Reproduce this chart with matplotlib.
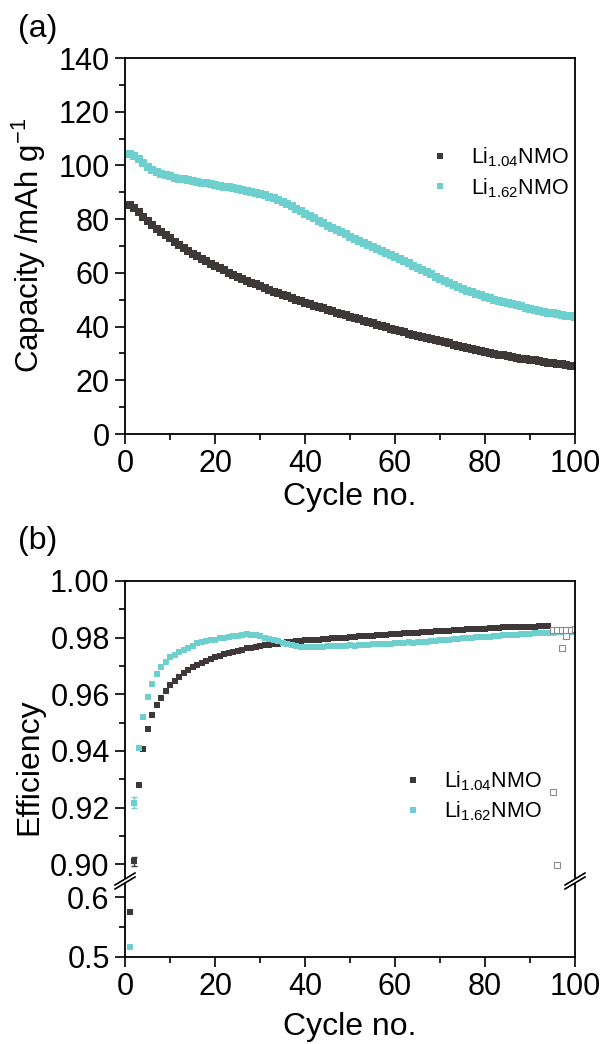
import matplotlib
matplotlib.use("Agg")
import matplotlib.pyplot as plt
from matplotlib.ticker import MultipleLocator, FormatStrFormatter

plt.rcParams["font.family"] = ["Liberation Sans", "DejaVu Sans"]
plt.rcParams["mathtext.default"] = "regular"

DARK = "#3e3838"
CYAN = "#6dcfce"
FS = 22

# ---- data ----
cycles = list(range(1, 101))

cap_li104 = [
    85.2, 84.2, 82.6, 80.9, 79.3, 77.8, 76.5, 75.2, 74.0, 72.8,
    71.6, 70.4, 69.3, 68.2, 67.2, 66.2, 65.2, 64.3, 63.4, 62.5,
    61.7, 60.9, 60.1, 59.3, 58.6, 57.8, 57.1, 56.4, 55.7, 55.0,
    54.3, 53.6, 53.0, 52.4, 51.8, 51.2, 50.6, 50.0, 49.4, 48.8,
    48.3, 47.8, 47.3, 46.8, 46.2, 45.7, 45.2, 44.7, 44.2, 43.7,
    43.2, 42.7, 42.2, 41.7, 41.2, 40.7, 40.2, 39.7, 39.2, 38.7,
    38.3, 37.9, 37.4, 37.0, 36.6, 36.2, 35.8, 35.4, 34.9, 34.5,
    34.1, 33.7, 33.3, 32.9, 32.5, 32.1, 31.7, 31.3, 30.9, 30.5,
    30.2, 29.9, 29.6, 29.3, 29.0, 28.7, 28.4, 28.1, 27.9, 27.7,
    27.4, 27.1, 26.9, 26.6, 26.4, 26.1, 25.9, 25.7, 25.5, 25.3,
]

cap_li162 = [
    104.3, 103.6, 102.3, 100.8, 99.5, 98.4, 97.6, 96.9, 96.4, 95.9,
    95.5, 95.1, 94.8, 94.5, 94.2, 93.9, 93.6, 93.3, 93.0, 92.7,
    92.4, 92.1, 91.8, 91.5, 91.2, 90.9, 90.6, 90.2, 89.8, 89.4,
    88.9, 88.4, 87.8, 87.1, 86.4, 85.6, 84.8, 83.9, 83.0, 82.1,
    81.2, 80.3, 79.4, 78.5, 77.6, 76.8, 75.9, 75.1, 74.3, 73.5,
    72.7, 71.9, 71.1, 70.3, 69.5, 68.8, 68.0, 67.3, 66.6, 65.9,
    65.1, 64.3, 63.5, 62.7, 61.9, 61.0, 60.2, 59.4, 58.5, 57.7,
    56.9, 56.2, 55.5, 54.8, 54.1, 53.4, 52.8, 52.2, 51.6, 51.0,
    50.5, 50.0, 49.5, 49.1, 48.7, 48.3, 47.9, 47.5, 47.1, 46.7,
    46.3, 45.9, 45.6, 45.2, 44.9, 44.6, 44.3, 44.0, 43.8, 43.6,
]

eff_cycles_li104 = list(range(1, 95))
eff_li104 = [
    0.5745, 0.901, 0.928, 0.9406, 0.9476, 0.9527, 0.9562, 0.9588, 0.9611, 0.9633,
    0.9648, 0.9662, 0.9674, 0.9685, 0.9695, 0.9703, 0.9711, 0.9718, 0.9725, 0.9730,
    0.9736, 0.9741, 0.9746, 0.9750, 0.9754, 0.9758, 0.9762, 0.9765, 0.9768, 0.9770,
    0.9773, 0.9775, 0.9777, 0.9779, 0.9781, 0.9783, 0.9785, 0.9787, 0.9789, 0.9790,
    0.9791, 0.9792, 0.9793, 0.9795, 0.9796, 0.9797, 0.9798, 0.9799, 0.9800, 0.9801,
    0.9803, 0.9804, 0.9805, 0.9806, 0.9807, 0.9809, 0.9810, 0.9811, 0.9812, 0.9813,
    0.9814, 0.9815, 0.9816, 0.9817, 0.9818, 0.9819, 0.9820, 0.9821, 0.9822, 0.9823,
    0.9824, 0.9825, 0.9826, 0.9827, 0.9828, 0.9829, 0.9830, 0.9830, 0.9831, 0.9832,
    0.9833, 0.9834, 0.9835, 0.9836, 0.9836, 0.9837, 0.9837, 0.9838, 0.9838, 0.9839,
    0.9839, 0.9840, 0.9840, 0.9841,
]

eff_li162 = [
    0.517, 0.9217, 0.941, 0.952, 0.959, 0.9635, 0.967, 0.9697, 0.9715, 0.9730,
    0.9740, 0.9750, 0.9757, 0.9765, 0.9770, 0.9780, 0.9783, 0.9787, 0.9790, 0.9793,
    0.9797, 0.9800, 0.9803, 0.9805, 0.9807, 0.9810, 0.9812, 0.9810, 0.9808, 0.9804,
    0.9800, 0.9796, 0.9792, 0.9787, 0.9782, 0.9777, 0.9773, 0.9770, 0.9767, 0.9766,
    0.9766, 0.9768, 0.9767, 0.9768, 0.9770, 0.9769, 0.9771, 0.9770, 0.9772, 0.9773,
    0.9772, 0.9774, 0.9775, 0.9774, 0.9776, 0.9777, 0.9776, 0.9778, 0.9779, 0.9780,
    0.9780, 0.9781, 0.9783, 0.9782, 0.9784, 0.9786, 0.9785, 0.9787, 0.9789, 0.9790,
    0.9790, 0.9793, 0.9794, 0.9796, 0.9797, 0.9798, 0.9800, 0.9801, 0.9802, 0.9803,
    0.9803, 0.9805, 0.9806, 0.9808, 0.9809, 0.9810, 0.9811, 0.9812, 0.9813, 0.9814,
    0.9815, 0.9816, 0.9816, 0.9817, 0.9818, 0.9819, 0.9819, 0.9820, 0.9821, 0.9821,
]

# error bars only visible on cycle 2
err_cycle = [2]
err_li104 = [0.0016]
err_li162 = [0.0020]

# stray hollow squares near the right edge
hollow_x = [95, 96, 97, 98, 95, 96, 97, 98, 99, 100]
hollow_y = [0.9253, 0.8996, 0.9762, 0.9806, 0.9826, 0.9827, 0.9827, 0.9828, 0.9828, 0.9829]

labels = ["Li$_{1.04}$NMO", "Li$_{1.62}$NMO"]

W, H = 605, 1044
fig = plt.figure(figsize=(W / 100, H / 100), dpi=100)


def fax(x0, y0, x1, y1):
    # pixel box (left, top, right, bottom) -> figure axes
    return fig.add_axes([x0 / W, 1 - y1 / H, (x1 - x0) / W, (y1 - y0) / H])


def style(ax):
    for s in ax.spines.values():
        s.set_linewidth(1.3)
    ax.tick_params(which="major", direction="out", length=7, width=1.2, pad=4,
                   labelsize=FS, top=False, right=False)
    ax.tick_params(which="minor", direction="out", length=4, width=1.2,
                   top=False, right=False)
    ax.xaxis.set_major_locator(MultipleLocator(20))
    ax.xaxis.set_minor_locator(MultipleLocator(10))
    ax.set_xlim(0, 100)


# ---- (a) capacity ----
ax1 = fax(125, 58, 575, 434)
style(ax1)
ax1.plot(cycles, cap_li104, "s", color=DARK, ms=5.5, mew=0, label=labels[0])
ax1.plot(cycles, cap_li162, "s", color=CYAN, ms=5.5, mew=0, label=labels[1])
ax1.set_ylim(0, 140)
ax1.yaxis.set_major_locator(MultipleLocator(20))
ax1.yaxis.set_minor_locator(MultipleLocator(10))
ax1.legend(loc="center left", bbox_to_anchor=(0.677, 0.695), frameon=False,
           fontsize=15.5, handlelength=1.0, handletextpad=0.9, labelspacing=0.3,
           borderpad=0, borderaxespad=0, markerscale=0.7)

# ---- (b) efficiency, broken axis ----
axt = fax(125, 581, 575, 878)
axb = fax(125, 884, 575, 957)
for ax in (axt, axb):
    style(ax)
    ax.plot(eff_cycles_li104, eff_li104, "s", color=DARK, ms=4.3, mew=0, label=labels[0])
    ax.plot(cycles, eff_li162, "s", color=CYAN, ms=4.3, mew=0, label=labels[1])
    ax.errorbar(err_cycle, [eff_li104[1]], yerr=err_li104, fmt="none",
                ecolor=DARK, capsize=2.5, elinewidth=1)
    ax.errorbar(err_cycle, [eff_li162[1]], yerr=err_li162, fmt="none",
                ecolor=CYAN, capsize=2.5, elinewidth=1)
    ax.plot(hollow_x, hollow_y, "s", mfc="white", mec="#8a8a8a", ms=4.0, mew=0.8)

axt.set_ylim(0.8951, 1.0)
axt.yaxis.set_major_locator(MultipleLocator(0.02))
axt.yaxis.set_minor_locator(MultipleLocator(0.01))
axt.yaxis.set_major_formatter(FormatStrFormatter("%.2f"))
axt.spines["bottom"].set_visible(False)
axt.tick_params(axis="x", which="both", bottom=False, labelbottom=False)

axb.set_ylim(0.5, 0.6217)
axb.yaxis.set_major_locator(MultipleLocator(0.1))
axb.yaxis.set_minor_locator(MultipleLocator(0.05))
axb.yaxis.set_major_formatter(FormatStrFormatter("%.1f"))
axb.spines["top"].set_visible(False)

handles, labs = axt.get_legend_handles_labels()
axt.legend(handles[:2], labs[:2], loc="center left", bbox_to_anchor=(0.617, 0.276),
           frameon=False, fontsize=15.5, handlelength=1.0, handletextpad=0.9,
           labelspacing=0.3, borderpad=0, borderaxespad=0, markerscale=0.9)

# axis-break marks on both spines
for xc in (125, 575):
    for dy in (-2, 2):
        y = 881 + dy
        fig.add_artist(plt.Line2D([(xc - 10) / W, (xc + 10) / W],
                                  [1 - (y + 6) / H, 1 - (y - 6) / H],
                                  color="black", lw=1.2))

# ---- text ----
fig.text(38 / W, 1 - 29 / H, "(a)", fontsize=23, ha="center", va="center")
fig.text(38 / W, 1 - 541 / H, "(b)", fontsize=23, ha="center", va="center")
fig.text(29 / W, 1 - 245 / H, "Capacity /mAh g$^{-1}$", fontsize=22.5,
         rotation=90, ha="center", va="center")
fig.text(29 / W, 1 - 767 / H, "Efficiency", fontsize=23,
         rotation=90, ha="center", va="center")
fig.text(350 / W, 1 - 497 / H, "Cycle no.", fontsize=23, ha="center", va="center")
fig.text(350 / W, 1 - 1027 / H, "Cycle no.", fontsize=23, ha="center", va="center")

fig.savefig("out.png", dpi=100)
